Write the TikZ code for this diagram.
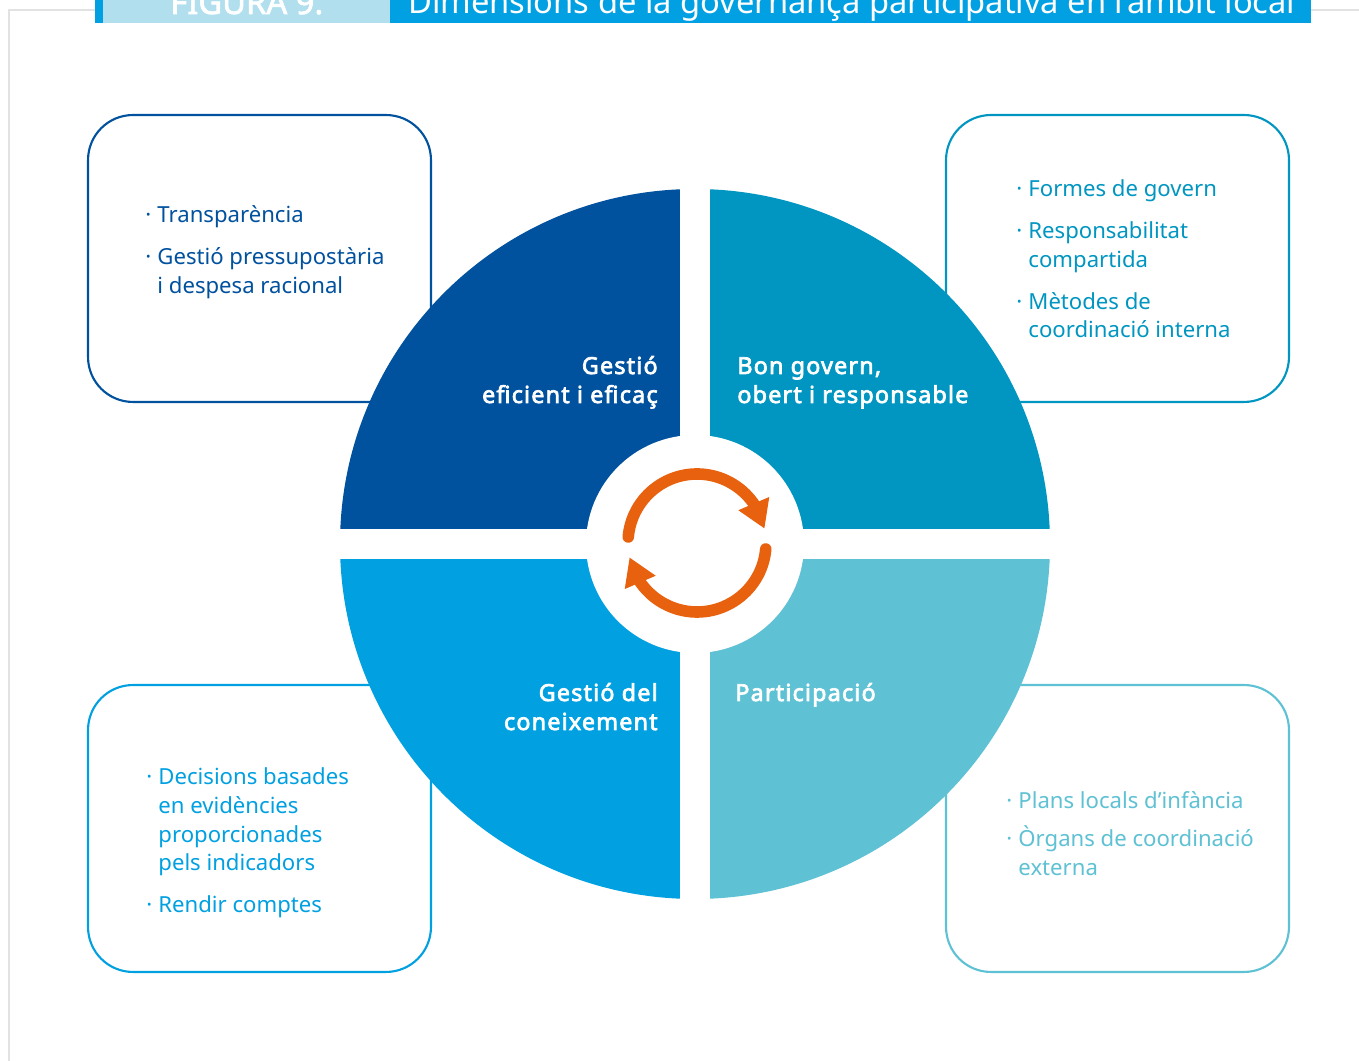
\documentclass[tikz,border=0pt]{standalone}
\usepackage{fontspec}
\setmainfont{Noto Sans}[BoldFont={Noto Sans}, BoldFeatures={FakeBold=2.2}]
\newfontfamily\labelfont{Noto Sans}[FakeBold=3, LetterSpace=5]
\usepackage{xcolor}
\usetikzlibrary{arrows.meta, bending}

\definecolor{govDark}{HTML}{00519E}
\definecolor{govTeal}{HTML}{0096C1}
\definecolor{govBlue}{HTML}{00A0E1}
\definecolor{govLight}{HTML}{5FC1D4}
\definecolor{govOrange}{HTML}{E8610E}
\definecolor{headBlue}{HTML}{00A0E3}
\definecolor{headPale}{HTML}{B1DFEE}
\definecolor{frameGray}{HTML}{E2E2E2}

\begin{document}
\begin{tikzpicture}[x=0.02cm, y=0.02cm,
	dimbox/.style={draw, line width=1.2pt, rounded corners=0.9cm, minimum width=6.86cm, minimum height=5.74cm, fill=white},
	itemlist/.style={anchor=base west, inner sep=0pt, font=\fontsize{12.6}{16.3}\selectfont},
	quadlabel/.style={inner sep=0pt, text=white, font=\labelfont\fontsize{13.3}{16.5}\selectfont},
	headtext/.style={anchor=base west, inner sep=0pt, text=white, font=\fontsize{18.6}{20}\selectfont},
	cyclearrow/.style={govOrange, line width=6.6pt, line cap=round, -{Triangle[length=15.5pt, width=18pt, flex]}}]
					\useasboundingbox (0,0) rectangle (1359,1061);
					\def\cx{695};
					\def\cy{517};
					\def\rOuter{355};
					\def\rInner{109};
					\def\gap{15};
					\def\rArrow{69};

					\newcommand{\drawQuadrant}[5]
					{
						\fill[#5] (#1,#2) rectangle (#3,#4)
					}

					\newcommand{\bulletList}[1]
					{
						\begin{tabular}[t]{@{}l@{\hspace{3.5pt}}l@{}}#1\end{tabular}
					}

					\begin{scope}
						\draw[frameGray, line width=1.2pt] (9,0) -- (9,1051) -- (1359,1051);
						\fill[headBlue] (95,1038) rectangle (1311,1075);
						\fill[headPale] (103,1038) rectangle (390,1075);
						\node[headtext, font=\bfseries\fontsize{18.6}{20}\selectfont] (figNum) at (170,1047) {FIGURA 9.};
						\node[headtext] (figTitle) at (408,1047) {Dimensions de la governança participativa en l'àmbit local};
					\end{scope}

					\begin{scope}
						\node[dimbox, draw=govDark] (boxEfficient) at (259.5,802.5) {};
						\node[dimbox, draw=govTeal] (boxGovern) at (1117.5,802.5) {};
						\node[dimbox, draw=govBlue] (boxKnowledge) at (259.5,232.5) {};
						\node[dimbox, draw=govLight] (boxParticip) at (1117.5,232.5) {};
					\end{scope}

					\begin{scope}
						\clip (\cx,\cy) circle (\rOuter);
						\drawQuadrant{\cx-\rOuter}{\cy+\gap}{\cx-\gap}{\cy+\rOuter}{govDark};
						\drawQuadrant{\cx+\gap}{\cy+\gap}{\cx+\rOuter}{\cy+\rOuter}{govTeal};
						\drawQuadrant{\cx-\rOuter}{\cy-\rOuter}{\cx-\gap}{\cy-\gap}{govBlue};
						\drawQuadrant{\cx+\gap}{\cy-\rOuter}{\cx+\rOuter}{\cy-\gap}{govLight};
					\end{scope}
					\fill[white] (\cx,\cy) circle (\rInner);

					\begin{scope}
						\node[quadlabel, anchor=base east] (lblEfficient) at (658,687)
							{\begin{tabular}[t]{@{}r@{}}Gestió\\eficient i eficaç\end{tabular}};
						\node[quadlabel, anchor=base west] (lblGovern) at (737,687)
							{\begin{tabular}[t]{@{}l@{}}Bon govern,\\obert i responsable\end{tabular}};
						\node[quadlabel, anchor=base east] (lblKnowledge) at (658,360)
							{\begin{tabular}[t]{@{}r@{}}Gestió del\\coneixement\end{tabular}};
						\node[quadlabel, anchor=base west] (lblParticip) at (735,360) {Participació};
					\end{scope}

					\begin{scope}
						\node[itemlist, text=govDark] (listEfficient) at (145,838)
							{\bulletList{·&Transparència\\[7.5pt] ·&Gestió pressupostària\\ &i despesa racional}};
						\node[itemlist, text=govTeal] (listGovern) at (1016,864)
							{\bulletList{·&Formes de govern\\[7.5pt] ·&Responsabilitat\\ &compartida\\[7.5pt] ·&Mètodes de\\ &coordinació interna}};
						\node[itemlist, text=govBlue] (listKnowledge) at (146,276)
							{\bulletList{·&Decisions basades\\ &en evidències\\ &proporcionades\\ &pels indicadors\\[7.5pt] ·&Rendir comptes}};
						\node[itemlist, text=govLight] (listParticip) at (1006,252)
							{\bulletList{·&Plans locals d'infància\\[4.5pt] ·&Òrgans de coordinació\\ &externa}};
					\end{scope}

					\coordinate (hub) at (697,518);
					\draw[cyclearrow] ([shift={(175:\rArrow)}]hub) arc[start angle=175, end angle=12, radius=\rArrow];
					\draw[cyclearrow] ([shift={(-5:\rArrow)}]hub) arc[start angle=-5, end angle=-168, radius=\rArrow];
				\end{tikzpicture}
\end{document}
